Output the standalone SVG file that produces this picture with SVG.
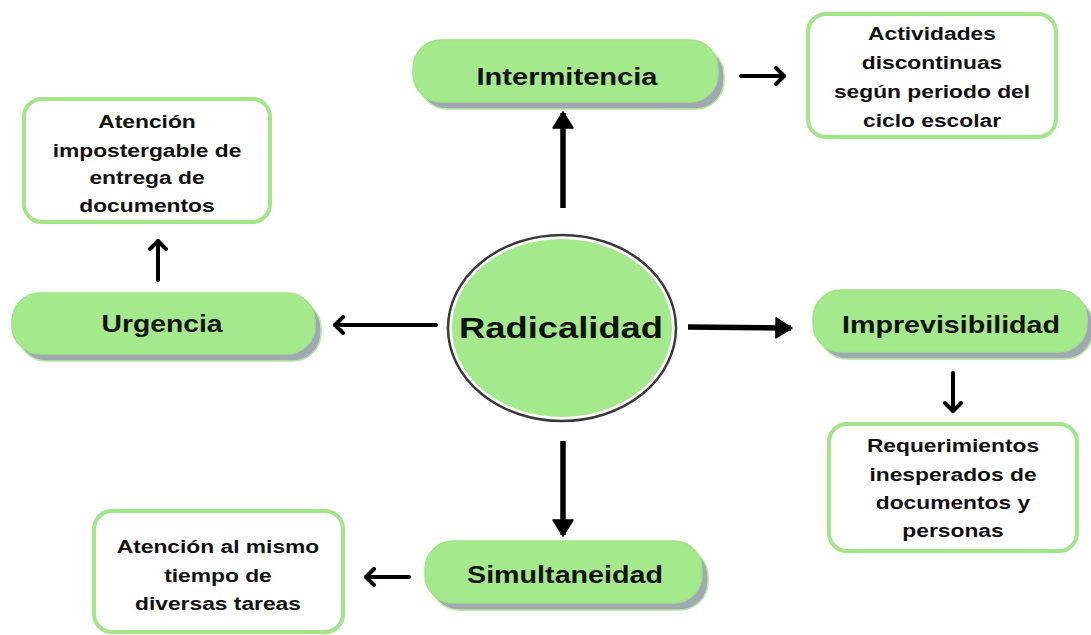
<svg xmlns="http://www.w3.org/2000/svg" width="1091" height="635" viewBox="0 0 1091 635">
<defs>
<marker id="tri" viewBox="0 0 18 22" refX="16" refY="11" markerWidth="18" markerHeight="22" markerUnits="userSpaceOnUse" orient="auto">
<path d="M1,1 L17,11 L1,21 Z" fill="#000" stroke="#000" stroke-width="1.5" stroke-linejoin="round"/>
</marker>
<marker id="chev" viewBox="0 0 14 20" refX="11" refY="10" markerWidth="14" markerHeight="20" markerUnits="userSpaceOnUse" orient="auto">
<path d="M3,2 L11,10 L3,18" fill="none" stroke="#000" stroke-width="4" stroke-linecap="round" stroke-linejoin="round"/>
</marker>
</defs>
<style>
.shadow{fill:#a0a8b2;stroke:#b5e8a0;stroke-width:1.5}
.pill{fill:#a4e98b;stroke:#9fe386;stroke-width:1.5}
.box{fill:#fff;stroke:#a3e68a;stroke-width:4}
.t{font-family:"Liberation Sans",Arial,sans-serif;font-weight:bold;fill:#111;text-anchor:middle}
.big{font-size:24px}
.small{font-size:19px}
.fl{stroke:#000;stroke-width:5.5;fill:none;marker-end:url(#tri)}
.cl{stroke:#000;stroke-width:4;fill:none;stroke-linecap:round;marker-end:url(#chev)}
</style>
<rect width="1091" height="635" fill="#fff"/>

<g id="connectors">
<line class="fl" x1="563" y1="208" x2="563" y2="113"/>
<line class="fl" x1="688" y1="327" x2="791" y2="328"/>
<line class="fl" x1="563" y1="441" x2="563" y2="535"/>
<line class="cl" x1="741" y1="76" x2="784" y2="76"/>
<line class="cl" x1="436" y1="325" x2="335" y2="325"/>
<line class="cl" x1="158" y1="280" x2="158" y2="241"/>
<line class="cl" x1="953" y1="373" x2="953" y2="411"/>
<line class="cl" x1="409" y1="577" x2="366" y2="577"/>
</g>

<g id="radicalidad">
<ellipse cx="562" cy="328" rx="114" ry="93" fill="#fff" stroke="#3a3a3a" stroke-width="2.5"/>
<ellipse cx="562" cy="328" rx="110" ry="89" fill="#a4e98b"/>
<text class="t" x="561" y="338" font-size="30" textLength="204" lengthAdjust="spacingAndGlyphs">Radicalidad</text>
</g>

<g id="intermitencia">
<rect class="shadow" x="419" y="47" width="305" height="62" rx="28"/>
<rect class="pill" x="413" y="40" width="305" height="62" rx="28"/>
<text class="t big" x="567" y="85" textLength="181" lengthAdjust="spacingAndGlyphs">Intermitencia</text>
</g>

<g id="urgencia">
<rect class="shadow" x="18" y="300" width="303" height="61" rx="28"/>
<rect class="pill" x="12" y="293" width="303" height="61" rx="28"/>
<text class="t big" x="162" y="332" textLength="121" lengthAdjust="spacingAndGlyphs">Urgencia</text>
</g>

<g id="imprevisibilidad">
<rect class="shadow" x="819" y="297" width="274" height="62" rx="28"/>
<rect class="pill" x="813" y="290" width="274" height="62" rx="28"/>
<text class="t big" x="951" y="333" textLength="218" lengthAdjust="spacingAndGlyphs">Imprevisibilidad</text>
</g>

<g id="simultaneidad">
<rect class="shadow" x="431" y="548" width="277" height="62" rx="28"/>
<rect class="pill" x="425" y="541" width="277" height="62" rx="28"/>
<text class="t big" x="565" y="583" textLength="196" lengthAdjust="spacingAndGlyphs">Simultaneidad</text>
</g>

<g id="actividades">
<rect class="box" x="808" y="14" width="248" height="123" rx="18"/>
<g transform="matrix(1.2 0 0 1 -186.4 0)">
<text class="t small" x="932" y="40">Actividades</text>
<text class="t small" x="932" y="69">discontinuas</text>
<text class="t small" x="932" y="98">según periodo del</text>
<text class="t small" x="932" y="127">ciclo escolar</text>
</g>
</g>

<g id="atencion-urgente">
<rect class="box" x="24" y="99" width="246" height="123" rx="18"/>
<g transform="matrix(1.2 0 0 1 -29.4 0)">
<text class="t small" x="147" y="128">Atención</text>
<text class="t small" x="147" y="157">impostergable de</text>
<text class="t small" x="147" y="184">entrega de</text>
<text class="t small" x="147" y="212">documentos</text>
</g>
</g>

<g id="requerimientos">
<rect class="box" x="829" y="424" width="248" height="127" rx="18"/>
<g transform="matrix(1.2 0 0 1 -190.6 0)">
<text class="t small" x="953" y="452">Requerimientos</text>
<text class="t small" x="953" y="481">inesperados de</text>
<text class="t small" x="953" y="509">documentos y</text>
<text class="t small" x="953" y="537">personas</text>
</g>
</g>

<g id="atencion-simultanea">
<rect class="box" x="94" y="511" width="249" height="121" rx="18"/>
<g transform="matrix(1.2 0 0 1 -43.6 0)">
<text class="t small" x="218" y="553">Atención al mismo</text>
<text class="t small" x="218" y="582">tiempo de</text>
<text class="t small" x="218" y="610">diversas tareas</text>
</g>
</g>
</svg>
